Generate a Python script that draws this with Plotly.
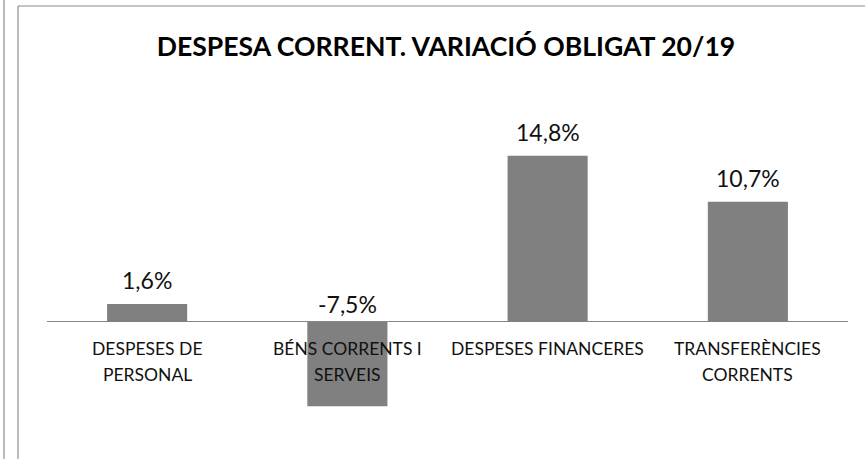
import plotly.graph_objects as go

categories = ["DESPESES DE<br>PERSONAL", "BÉNS CORRENTS I<br>SERVEIS", "DESPESES FINANCERES", "TRANSFERÈNCIES<br>CORRENTS"]
values = [1.6, -7.5, 14.8, 10.7]
value_labels = ["1,6%", "-7,5%", "14,8%", "10,7%"]
title_text = "DESPESA CORRENT. VARIACIÓ OBLIGAT 20/19"

W, H = 865, 459
ml, mr, mt, mb = 47, 17, 100, 19
pw = W - ml - mr
ph = H - mt - mb

FONT = "Lato"

fig = go.Figure()
fig.add_trace(go.Bar(
    x=list(range(len(categories))), y=values,
    marker=dict(color="#808080", line=dict(width=0)),
    width=0.4, hoverinfo="skip",
))

annotations = []
for i, (c, v, t) in enumerate(zip(categories, values, value_labels)):
    for k, line in enumerate(c.split("<br>")):
        annotations.append(dict(
            x=i, y=0, xref="x", yref="y", text=line, showarrow=False,
            yanchor="top", yshift=-14 - 26 * k,
            font=dict(family=FONT, size=17.5, color="#111111"),
        ))
    annotations.append(dict(
        x=i, y=max(v, 0), xref="x", yref="y", text=t, showarrow=False,
        yanchor="bottom", yshift=8 if v > 0 else 2,
        font=dict(family=FONT, size=23, color="#111111"),
    ))

def px_x(p):
    return (p - ml) / pw

def px_y(p):
    return 1 - (p - mt) / ph

shapes = [
    dict(type="line", xref="paper", yref="paper", x0=px_x(4), x1=px_x(4), y0=px_y(0), y1=px_y(H),
         line=dict(color="#8c8c8c", width=1.2)),
    dict(type="line", xref="paper", yref="paper", x0=px_x(18), x1=px_x(18), y0=px_y(6), y1=px_y(H),
         line=dict(color="#8c8c8c", width=1.2)),
    dict(type="line", xref="paper", yref="paper", x0=px_x(18), x1=px_x(W), y0=px_y(6), y1=px_y(6),
         line=dict(color="#8c8c8c", width=1.2)),
]

fig.update_layout(
    width=W, height=H,
    margin=dict(l=ml, r=mr, t=mt, b=mb, pad=0),
    paper_bgcolor="white", plot_bgcolor="white",
    showlegend=False,
    title=dict(text="<b>" + title_text + "</b>", x=px_x(446), xref="paper", xanchor="center",
               y=1 - 47 / H, yref="container", yanchor="middle",
               font=dict(family=FONT, size=26.6, color="#000000")),
    xaxis=dict(range=[-0.5, 3.5], showticklabels=False, showgrid=False, zeroline=False,
               showline=False, ticks=""),
    yaxis=dict(range=[-10.5, 19.75], showticklabels=False, showgrid=False,
               zeroline=True, zerolinecolor="#868686", zerolinewidth=1.3,
               showline=False, ticks=""),
    annotations=annotations,
    shapes=shapes,
    bargap=0.6,
)

fig.write_html("out.html", post_script="document.body.style.margin='0';",
               config={"displayModeBar": False})
